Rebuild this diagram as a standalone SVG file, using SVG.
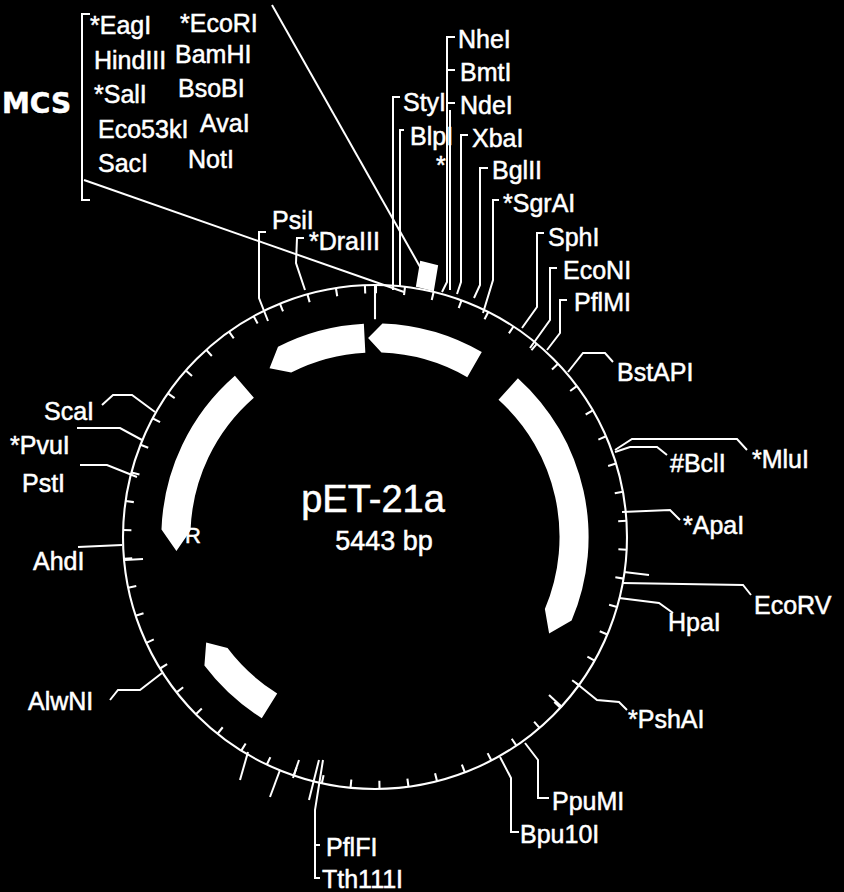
<svg xmlns="http://www.w3.org/2000/svg" width="844" height="892" viewBox="0 0 844 892">
<style>
text{font-family:"Liberation Sans",Arial,sans-serif;fill:#fff;font-size:25px;stroke:#fff;stroke-width:0.5}
.l{fill:none;stroke:#fff;stroke-width:2}
.f{fill:#fff}
</style>
<rect width="844" height="892" fill="#000"/>
<g id="map" transform="translate(375,537) scale(1.037)">
<circle r="243" class="l"/>
<circle r="239" fill="none" stroke="#fff" stroke-width="8" stroke-dasharray="2 25.6" transform="rotate(-90)"/>
<line x1="0" y1="-243" x2="0" y2="-210" class="l"/>
<g transform="rotate(3)">
<path class="f" d="M-3.6,-206 A206 206 0 0 1 93.5,-183.5 L80.8,-158.6 A178 178 0 0 0 -3.1,-178 L-16.7,-191.3 Z"/>
<path class="f" d="M-21.5,-204.9 A206 206 0 0 0 -103,-178.4 L-110.1,-157.3 L-89,-154.2 A178 178 0 0 1 -18.6,-177 Z"/>
</g>
<path class="f" d="M137.8,-153.1 A206 206 0 0 1 189.6,80.5 L167.9,93.1 L163.8,69.5 A178 178 0 0 0 119.1,-132.3 Z"/>
<path class="f" d="M-135.1,-155.5 A206 206 0 0 0 -205.9,-7.2 L-191.5,13.4 L-177.9,-6.2 A178 178 0 0 1 -116.8,-134.3 Z"/>
<path class="f" d="M-109.2,174.7 A206 206 0 0 1 -164.5,124 L-162.8,101.7 L-142.2,107.1 A178 178 0 0 0 -94.3,150.9 Z"/>
</g>
<g id="center">
<text x="373" y="512" text-anchor="middle" style="font-size:38px">pET-21a</text>
<text x="384" y="550" text-anchor="middle" style="font-size:27px">5443 bp</text>
<text x="185" y="543" style="font-size:22px">R</text>
</g>
<g id="connectors" class="l">
<polyline points="90,14 82,14 82,200 90,200"/>
<line x1="272" y1="5" x2="432" y2="288"/>
<line x1="84" y1="180" x2="404" y2="292"/>
<polygon class="f" points="421,262 437,266 433,290 417,286"/>
<polyline points="400,97 393,97 393,290"/>
<polyline points="404,130 400,130 400,286"/>
<polyline points="455,37 447,37 447,282 442,292"/>
<polyline points="447,70 455,70"/>
<polyline points="447,103 455,103"/>
<line x1="450" y1="110" x2="450" y2="290"/>
<polyline points="468,135 461,135 461,282 457,294"/>
<polyline points="488,168 480,168 480,285 474,298"/>
<polyline points="499,200 493,200 493,280 483,313"/>
<polyline points="544,233 537,233 537,307 522,328"/>
<polyline points="557,268 550,268 550,320 530,348"/>
<polyline points="567,300 560,300 560,333 547,350"/>
<polyline points="568,372 583,353 605,353 613,362"/>
<polyline points="615,452 630,447 657,447 667,455"/>
<polyline points="615,450 632,439 737,439 747,450"/>
<polyline points="622,512 670,510 680,520"/>
<line x1="624" y1="572" x2="649" y2="575"/>
<polyline points="622,583 743,585 751,595"/>
<polyline points="619,598 659,603 673,613"/>
<polyline points="576,683 597,700 619,702 627,710"/>
<line x1="549" y1="695" x2="562" y2="707"/>
<polyline points="525,743 538,760 538,798 549,798"/>
<polyline points="500,757 511,778 511,832 519,832"/>
<polyline points="323,760 315,810 315,878 320,878"/>
<line x1="315" y1="845" x2="320" y2="845"/>
<line x1="319" y1="760" x2="309" y2="800"/>
<line x1="299" y1="760" x2="293" y2="778"/>
<line x1="280" y1="770" x2="270" y2="797"/>
<line x1="248" y1="752" x2="240" y2="780"/>
<polyline points="110,700 118,690 140,690 162,673"/>
<polyline points="122,545 78,547"/>
<line x1="125" y1="560" x2="143" y2="559"/>
<polyline points="137,477 107,465 80,465"/>
<polyline points="142,440 120,428 77,428"/>
<polyline points="155,412 132,395 113,395 102,405"/>
<polyline points="266,232 259,232 259,298 268,321"/>
<polyline points="304,238 297,238 296,263 305,290"/>
</g>
<g id="mcs">
<text x="2" y="113" style="font-family:'DejaVu Sans',sans-serif;font-size:28px;font-weight:bold">MCS</text>
<text x="90" y="34">*EagI</text>
<text x="180" y="32">*EcoRI</text>
<text x="94" y="69">HindIII</text>
<text x="175" y="63">BamHI</text>
<text x="94" y="103">*SalI</text>
<text x="178" y="97">BsoBI</text>
<text x="98" y="138">Eco53kI</text>
<text x="200" y="132">AvaI</text>
<text x="98" y="172">SacI</text>
<text x="188" y="168">NotI</text>
</g>
<g id="labels">
<text x="458" y="48">NheI</text>
<text x="460" y="81">BmtI</text>
<text x="460" y="114">NdeI</text>
<text x="403" y="111">StyI</text>
<text x="410" y="145">BlpI</text>
<text x="472" y="147">XbaI</text>
<text x="436" y="174">*</text>
<text x="492" y="179">BglII</text>
<text x="503" y="212">*SgrAI</text>
<text x="548" y="246">SphI</text>
<text x="563" y="279">EcoNI</text>
<text x="574" y="311">PflMI</text>
<text x="617" y="381">BstAPI</text>
<text x="670" y="472">#BclI</text>
<text x="752" y="468">*MluI</text>
<text x="683" y="534">*ApaI</text>
<text x="754" y="614">EcoRV</text>
<text x="668" y="631">HpaI</text>
<text x="628" y="728">*PshAI</text>
<text x="552" y="810">PpuMI</text>
<text x="520" y="843">Bpu10I</text>
<text x="326" y="856">PflFI</text>
<text x="322" y="888">Tth111I</text>
<text x="28" y="710">AlwNI</text>
<text x="33" y="570">AhdI</text>
<text x="22" y="492">PstI</text>
<text x="10" y="454">*PvuI</text>
<text x="44" y="420">ScaI</text>
<text x="272" y="229">PsiI</text>
<text x="309" y="250">*DraIII</text>
</g>
</svg>
